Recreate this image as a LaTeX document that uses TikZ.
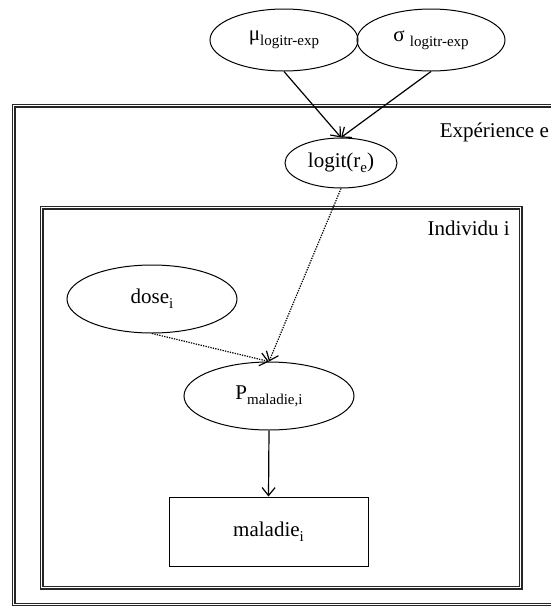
\documentclass[tikz,border=0pt]{standalone}
\usepackage{fontspec}
\setmainfont{Liberation Serif}
\usetikzlibrary{arrows.meta,calc,shapes.geometric}
\newcommand\lowidx[1]{\raisebox{-0.22em}{\fontsize{15}{15}\selectfont #1}}

\begin{document}
\begin{tikzpicture}[x=1pt,y=-1pt,
  every node/.style={font=\fontsize{21}{25}\selectfont},
  var/.style={draw, ellipse, line width=1pt, inner sep=0pt},
  obs/.style={draw, rectangle, line width=1pt, inner sep=0pt},
  plate/.style={draw=black!85, double, line width=1.1pt, double distance=1.8pt},
  title/.style={anchor=base east, inner sep=0pt},
  link/.style={line width=1.2pt, -{Straight Barb[length=8pt,width=13pt,line width=1.2pt]}},
  softlink/.style={link, dash pattern=on 1.3pt off 1.2pt}
]
\useasboundingbox (0,0) rectangle (551,606);

% plates
\draw[plate] (13.5,105.5) rectangle (575,604.5);
\draw[plate] (41.5,207.5) rectangle (520.5,587.5);
\node[title] (exptitle) at (549,137) {Expérience e};
\node[title] (indtitle) at (510,235) {Individu i};

% hyperparameters
\node[var, minimum width=148pt, minimum height=62pt] (mu) at (284,40) {μ\lowidx{logitr-exp}};
\node[var, minimum width=148pt, minimum height=62pt] (sigma) at (431,40) {σ \lowidx{logitr-exp}};

% experiment level
\node[var, minimum width=112pt, minimum height=50pt] (logit) at (341,163) {logit(r\lowidx{e})};

% individual level
\node[var, minimum width=170pt, minimum height=68pt] (dose) at (152,299) {dose\lowidx{i}};
\node[var, minimum width=170pt, minimum height=68pt] (pmal) at (269,396) {P\lowidx{maladie,i}};
\node[obs, minimum width=199pt, minimum height=69pt] (mal) at (268.5,531.5) {maladie\lowidx{i}};

% dependencies
\draw[link] (mu.south) -- (logit.north);
\draw[link] (sigma.south) -- (logit.north);
\draw[softlink] (logit.south) -- (pmal.north);
\draw[softlink] (dose.south) -- (pmal.north);
\draw[link] (pmal.south) -- (mal.north);
\end{tikzpicture}
\end{document}
